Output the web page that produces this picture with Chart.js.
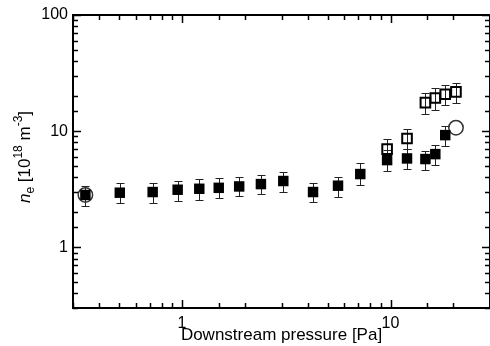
<!DOCTYPE html>
<html>
<head>
<meta charset="utf-8">
<script src="https://cdn.jsdelivr.net/npm/chart.js@4.4.1/dist/chart.umd.min.js"></script>
<style>
  html, body { margin: 0; padding: 0; background: #fff; }
</style>
</head>
<body>
<canvas id="chart" width="490" height="346"></canvas>
<script>
// filled squares
const filledP    = [0.344, 0.503, 0.723, 0.953, 1.21, 1.50, 1.88, 2.39, 3.06, 4.25, 5.6, 7.16, 9.63, 12.0, 14.7, 16.4, 18.3];
const filledNe   = [2.82, 2.95, 2.99, 3.13, 3.19, 3.25, 3.34, 3.50, 3.72, 2.99, 3.39, 4.27, 5.63, 5.82, 5.75, 6.34, 9.24];
const filledLow  = [2.28, 2.39, 2.40, 2.50, 2.56, 2.65, 2.74, 2.85, 2.99, 2.44, 2.72, 3.43, 4.53, 4.70, 4.62, 5.10, 7.40];
const filledHigh = [3.39, 3.55, 3.55, 3.73, 3.88, 3.97, 4.05, 4.18, 4.47, 3.59, 3.99, 5.27, 6.90, 7.00, 6.77, 7.57, 11.0];

// open squares
const openP    = [9.63, 12.0, 14.7, 16.4, 18.3, 20.6];
const openNe   = [7.0, 8.65, 17.6, 19.3, 20.8, 21.8];
const openLow  = [5.8, 7.0, 14.1, 15.3, 16.9, 17.5];
const openHigh = [8.5, 10.4, 21.5, 23.3, 24.8, 26.2];

// open circles
const circleP  = [0.344, 20.6];
const circleNe = [2.82, 10.7];

const xTickLabels = [1, 10];
const yTickLabels = [1, 10, 100];

const isDecade = v => Math.abs(Math.log10(v) - Math.round(Math.log10(v))) < 1e-6;
const toPoints = (xs, ys) => xs.map((x, i) => ({x: x, y: ys[i]}));

const errorBars = {
  id: 'errorBars',
  beforeDatasetsDraw(chart) {
    const {ctx, scales: {x, y}} = chart;
    ctx.save();
    ctx.strokeStyle = '#222';
    ctx.lineWidth = 1;
    chart.data.datasets.forEach(ds => {
      if (!ds.errLow) return;
      ds.data.forEach((p, i) => {
        const px = Math.round(x.getPixelForValue(p.x)) + 0.5;
        const top = Math.round(y.getPixelForValue(ds.errHigh[i])) + 0.5;
        const bot = Math.round(y.getPixelForValue(ds.errLow[i])) + 0.5;
        ctx.beginPath();
        ctx.moveTo(px, top); ctx.lineTo(px, bot);
        ctx.moveTo(px - 4, top); ctx.lineTo(px + 4, top);
        ctx.moveTo(px - 4, bot); ctx.lineTo(px + 4, bot);
        ctx.stroke();
      });
    });
    ctx.restore();
  }
};

const frameTicks = {
  id: 'frameTicks',
  afterDraw(chart) {
    const {ctx, chartArea: a, scales: {x, y}} = chart;
    ctx.save();
    ctx.strokeStyle = '#000';
    ctx.lineWidth = 1.5;
    ctx.beginPath();
    x.ticks.forEach(t => {
      const px = Math.round(x.getPixelForValue(t.value)) + 0.5;
      const len = isDecade(t.value) ? 8 : 5;
      ctx.moveTo(px, a.bottom); ctx.lineTo(px, a.bottom - len);
      ctx.moveTo(px, a.top); ctx.lineTo(px, a.top + len);
    });
    y.ticks.forEach(t => {
      const py = Math.round(y.getPixelForValue(t.value)) + 0.5;
      const len = isDecade(t.value) ? 8 : 5;
      ctx.moveTo(a.left, py); ctx.lineTo(a.left + len, py);
      ctx.moveTo(a.right, py); ctx.lineTo(a.right - len, py);
    });
    ctx.stroke();
    ctx.lineWidth = 2;
    ctx.strokeRect(a.left, a.top, a.right - a.left, a.bottom - a.top);

    // y axis title: n_e [10^18 m^-3]
    const parts = [
      {t: 'n', size: 17, style: 'italic ', shift: 0},
      {t: 'e', size: 12, style: '', shift: 4},
      {t: ' [10', size: 17, style: '', shift: 0},
      {t: '18', size: 12, style: '', shift: -8},
      {t: ' m', size: 17, style: '', shift: 0},
      {t: '-3', size: 12, style: '', shift: -8},
      {t: ']', size: 17, style: '', shift: 0}
    ];
    const fam = '"Liberation Sans", Arial, sans-serif';
    let total = 0;
    parts.forEach(p => {
      ctx.font = p.style + p.size + 'px ' + fam;
      p.w = ctx.measureText(p.t).width;
      total += p.w;
    });
    ctx.translate(30, 157);
    ctx.rotate(-Math.PI / 2);
    ctx.fillStyle = '#000';
    ctx.textBaseline = 'alphabetic';
    let cx = -total / 2;
    parts.forEach(p => {
      ctx.font = p.style + p.size + 'px ' + fam;
      ctx.fillText(p.t, cx, p.shift);
      cx += p.w;
    });
    ctx.restore();
  }
};

new Chart(document.getElementById('chart'), {
  type: 'scatter',
  data: {
    datasets: [
      {
        data: toPoints(filledP, filledNe),
        errLow: filledLow,
        errHigh: filledHigh,
        pointStyle: 'rect',
        pointRadius: 7.4,
        pointBackgroundColor: '#000',
        pointBorderColor: '#000',
        pointBorderWidth: 0
      },
      {
        data: toPoints(openP, openNe),
        errLow: openLow,
        errHigh: openHigh,
        pointStyle: 'rect',
        pointRadius: 6.8,
        pointBackgroundColor: 'rgba(0,0,0,0)',
        pointBorderColor: '#000',
        pointBorderWidth: 2
      },
      {
        data: toPoints(circleP, circleNe),
        pointStyle: 'circle',
        pointRadius: 7.2,
        pointBackgroundColor: 'rgba(0,0,0,0)',
        pointBorderColor: '#333',
        pointBorderWidth: 1.5
      }
    ]
  },
  options: {
    responsive: false,
    animation: false,
    layout: { autoPadding: false, padding: { top: 15, right: -1, left: 0, bottom: 0 } },
    plugins: { legend: { display: false }, tooltip: { enabled: false } },
    scales: {
      x: {
        type: 'logarithmic',
        min: 0.3,
        max: 30,
        grid: { display: false, drawTicks: false },
        border: { display: false },
        ticks: {
          autoSkip: false,
          maxRotation: 0,
          padding: 6,
          color: '#000',
          font: { family: '"Liberation Sans", Arial, sans-serif', size: 16 },
          callback: v => xTickLabels.some(l => Math.abs(l - v) < 1e-9) ? String(v) : ''
        },
        title: {
          display: true,
          text: 'Downstream pressure [Pa]',
          color: '#000',
          font: { family: '"Liberation Sans", Arial, sans-serif', size: 17 },
          padding: { top: 0, bottom: 0 }
        },
        afterFit: s => { s.height = 38; s.paddingLeft = 0; s.paddingRight = 0; }
      },
      y: {
        type: 'logarithmic',
        min: 0.3,
        max: 100,
        grid: { display: false, drawTicks: false },
        border: { display: false },
        ticks: {
          autoSkip: false,
          padding: 5,
          color: '#000',
          font: { family: '"Liberation Sans", Arial, sans-serif', size: 16 },
          callback: v => yTickLabels.some(l => Math.abs(l - v) < 1e-9) ? String(v) : ''
        },
        afterFit: s => { s.width = 73; }
      }
    }
  },
  plugins: [errorBars, frameTicks]
});
</script>
</body>
</html>
